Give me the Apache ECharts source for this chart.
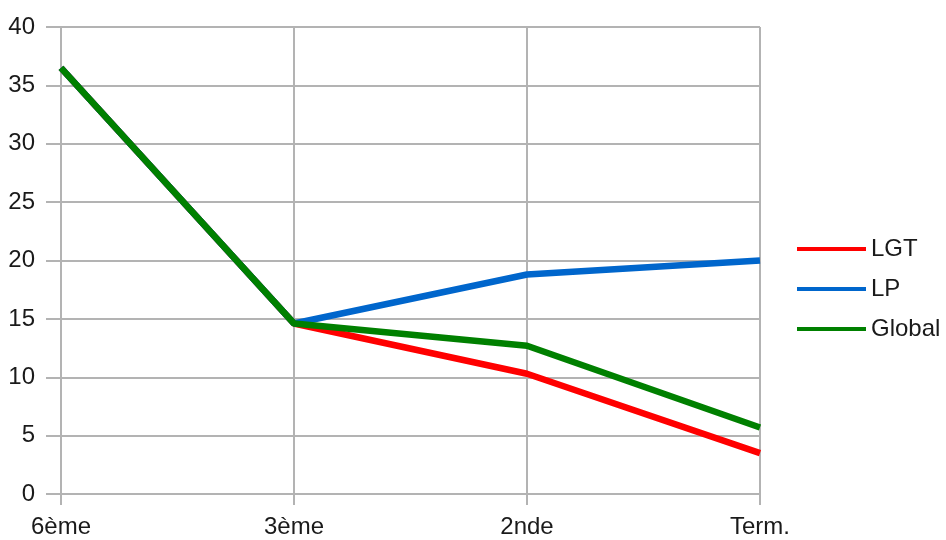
<!DOCTYPE html>
<html>
<head>
<meta charset="utf-8">
<script src="https://cdn.jsdelivr.net/npm/echarts@6/dist/echarts.min.js"></script>
<style>html,body{margin:0;padding:0;background:#fff;}#c{width:946px;height:540px;}</style>
</head>
<body>
<div id="c"></div>
<script>
const categories = ['6ème', '3ème', '2nde', 'Term.'];
const lgt = [36.5, 14.6, 10.3, 3.5];
const lp = [36.5, 14.6, 18.8, 20.0];
const global = [36.5, 14.6, 12.7, 5.7];
const seriesNames = ['LGT', 'LP', 'Global'];
const seriesColors = ['#ff0000', '#0066cc', '#008000'];
const seriesData = [lgt, lp, global];

const chart = echarts.init(document.getElementById('c'), null, {renderer: 'canvas'});
const font = 'Liberation Sans, Arial, sans-serif';
const gridColor = '#b3b3b3';
chart.setOption({
  animation: false,
  backgroundColor: '#ffffff',
  grid: {left: 61, right: 186, top: 27, bottom: 46, containLabel: false},
  legend: {
    orient: 'vertical',
    left: 792,
    top: 232,
    padding: 5,
    itemWidth: 69,
    itemHeight: 4,
    itemGap: 16,
    icon: 'rect',
    textStyle: {fontFamily: font, fontSize: 24, lineHeight: 24, color: '#1a1a1a'},
    data: seriesNames.map(n => ({name: n}))
  },
  xAxis: {
    type: 'category',
    data: categories,
    boundaryGap: false,
    axisLine: {show: true, lineStyle: {color: gridColor, width: 2}},
    axisTick: {show: true, length: 11, lineStyle: {color: gridColor, width: 2}},
    axisLabel: {fontFamily: font, fontSize: 24, color: '#1a1a1a', margin: 21},
    splitLine: {show: true, lineStyle: {color: gridColor, width: 2}}
  },
  yAxis: {
    type: 'value',
    min: 0, max: 40, interval: 5,
    axisLine: {show: true, lineStyle: {color: gridColor, width: 2}},
    axisTick: {show: true, length: 15, lineStyle: {color: gridColor, width: 2}},
    axisLabel: {fontFamily: font, fontSize: 24, color: '#1a1a1a', margin: 26},
    splitLine: {show: true, lineStyle: {color: gridColor, width: 2}}
  },
  series: seriesNames.map((n, i) => ({
    name: n,
    type: 'line',
    data: seriesData[i],
    symbol: 'none',
    color: seriesColors[i],
    lineStyle: {width: 6.5, color: seriesColors[i]},
    itemStyle: {color: seriesColors[i]},
    z: 2 + i
  }))
});
</script>
</body>
</html>
